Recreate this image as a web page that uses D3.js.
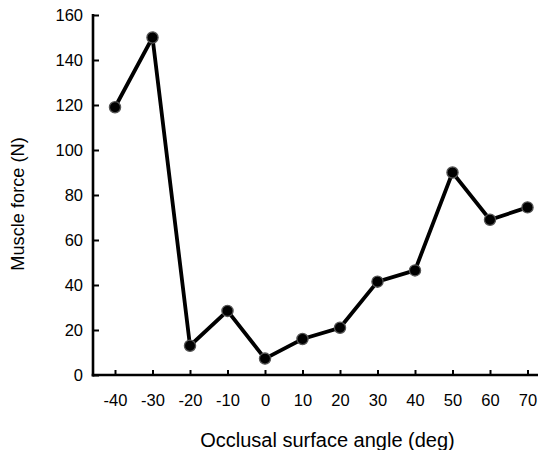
<!DOCTYPE html>
<html><head><meta charset="utf-8">
<script src="https://cdn.jsdelivr.net/npm/d3@7"></script>
<style>body{margin:0;background:#fff}svg{display:block}text{font-family:"Liberation Sans",Arial,sans-serif;fill:#000}</style>
</head><body>
<svg id="c" width="538" height="450"></svg>
<script>
const angles = [-40,-30,-20,-10,0,10,20,30,40,50,60,70];
const forces = [119,150,13,28.5,7.3,16,21,41.5,46.5,90,69,74.5];
const yTicks = [0,20,40,60,80,100,120,140,160];
const xLabel = "Occlusal surface angle (deg)";
const yLabel = "Muscle force (N)";

const svg = d3.select("#c");
const x = d3.scaleLinear().domain([-40,70]).range([115,527.5]);
const y = d3.scaleLinear().domain([0,160]).range([375,15]);
const x0 = 93, x1 = 538;

// y axis
const ya = svg.append("g").attr("transform",`translate(${x0},0)`)
  .call(d3.axisLeft(y).tickValues(yTicks).tickFormat(d=>String(d)).tickSize(-6).tickPadding(10));
ya.select(".domain").remove();
ya.selectAll(".tick line").attr("stroke","#000").attr("stroke-width",2);
ya.selectAll(".tick text").attr("font-size",16.5).attr("dy","0.36em");
svg.append("line").attr("x1",x0).attr("x2",x0).attr("y1",y(160)-1).attr("y2",y(0)+1.5)
  .attr("stroke","#000").attr("stroke-width",2.6);

// x axis
const xa = svg.append("g").attr("transform",`translate(0,${y(0)})`)
  .call(d3.axisBottom(x).tickValues(angles).tickFormat(d=>String(d)).tickSize(-5));
xa.select(".domain").remove();
xa.selectAll(".tick line").attr("stroke","#000").attr("stroke-width",2);
xa.selectAll(".tick text").attr("font-size",16.5).attr("y",31).attr("dy",0);
svg.append("line").attr("x1",x0-1.3).attr("x2",x1).attr("y1",y(0)).attr("y2",y(0))
  .attr("stroke","#000").attr("stroke-width",2.6);

// line
const pts = angles.map((a,i)=>[a,forces[i]]);
svg.append("path").datum(pts)
  .attr("d", d3.line().x(d=>x(d[0])).y(d=>y(d[1])))
  .attr("fill","none").attr("stroke","#000").attr("stroke-width",3.8).attr("stroke-linejoin","miter");
svg.selectAll("circle.m").data(pts).enter().append("circle").attr("class","m")
  .attr("cx",d=>x(d[0])).attr("cy",d=>y(d[1])).attr("r",5.6)
  .attr("fill","#000").attr("stroke","#555").attr("stroke-width",1.3);

// titles
svg.append("text").attr("x",327.5).attr("y",446.5).attr("text-anchor","middle").attr("font-size",20).text(xLabel);
svg.append("text").attr("transform","translate(24,204) rotate(-90)").attr("text-anchor","middle").attr("font-size",18.2).text(yLabel);
</script>
</body></html>
